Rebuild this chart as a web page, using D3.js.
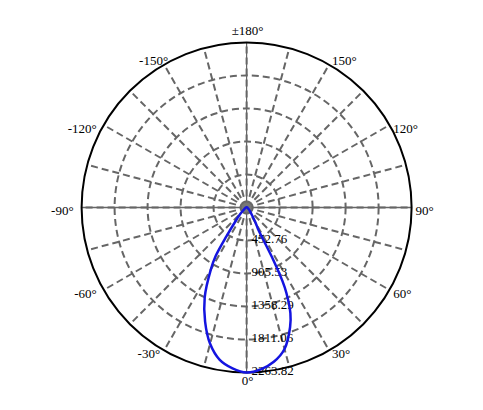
<!DOCTYPE html>
<html>
<head>
<meta charset="utf-8">
<script src="https://cdn.jsdelivr.net/npm/d3@7"></script>
<style>
  body { margin: 0; background: #fff; }
  text { font-family: "Liberation Serif", "Times New Roman", serif; font-size: 13px; }
</style>
</head>
<body>
<div id="chart"></div>
<script>
// Data (angle in degrees, 0 = down, positive to the right; intensity in cd)
var angles = [-180, -135, -90, -60, -50, -45, -40, -35, -32.5, -30, -25, -20, -15, -10, -5,
              0, 5, 10, 15, 20, 22.5, 25, 26, 27, 28, 30, 35, 40, 50, 60, 90, 135];
var intensity = [5, 5, 10, 30, 60, 120, 210, 480, 790, 980, 1360, 1665, 1935, 2122, 2215,
                 2264, 2230, 2150, 2010, 1745, 1570, 1290, 1120, 800, 330, 260, 130, 80, 40, 20, 10, 5];
var ringTicks = [452.76, 905.53, 1358.29, 1811.06, 2263.82];
var angleTicks = [0, 30, 60, 90, 120, 150, 180, -150, -120, -90, -60, -30];
var angleLabels = ["0°", "30°", "60°", "90°", "120°", "150°", "±180°", "-150°", "-120°", "-90°", "-60°", "-30°"];

var svgWidth = 483, svgHeight = 410;
var cx = 246.6, cy = 207.5, R = 165;
var maxVal = 2263.82;

var svg = d3.select("#chart").append("svg")
    .attr("width", svgWidth)
    .attr("height", svgHeight);

var r = d3.scaleLinear().domain([0, maxVal]).range([0, R]);
// screen angle for d3 radial (clockwise from 12 o'clock)
var toRad = function (deg) { return Math.PI - deg * Math.PI / 180; };

var g = svg.append("g").attr("transform", "translate(" + cx + "," + cy + ")");

// spokes every 15 degrees
var spokes = d3.range(0, 360, 15);
g.selectAll("line.spoke")
    .data(spokes)
    .enter().append("line")
    .attr("class", "spoke")
    .attr("x1", 0).attr("y1", 0)
    .attr("x2", function (d) { return R * Math.sin(toRad(d)); })
    .attr("y2", function (d) { return -R * Math.cos(toRad(d)); })
    .attr("stroke", "#666")
    .attr("stroke-width", 2)
    .attr("stroke-dasharray", "7,4");

// main axes, solid
g.append("line").attr("x1", -R).attr("x2", R).attr("y1", 0).attr("y2", 0)
    .attr("stroke", "#666").attr("stroke-width", 1.5);
g.append("line").attr("x1", 0).attr("x2", 0).attr("y1", -R).attr("y2", R)
    .attr("stroke", "#666").attr("stroke-width", 1.2);

// rings
g.selectAll("circle.ring")
    .data(ringTicks.slice(0, -1))
    .enter().append("circle")
    .attr("class", "ring")
    .attr("r", function (d) { return r(d); })
    .attr("fill", "none")
    .attr("stroke", "#666")
    .attr("stroke-width", 2)
    .attr("stroke-dasharray", "7,4");

g.append("circle")
    .attr("r", R)
    .attr("fill", "none")
    .attr("stroke", "black")
    .attr("stroke-width", 2);

// center dot
g.append("circle").attr("r", 5).attr("fill", "#777");

// ring labels
g.selectAll("text.rlab")
    .data(ringTicks)
    .enter().append("text")
    .attr("class", "rlab")
    .attr("x", 5)
    .attr("y", function (d) { return r(d); })
    .attr("dominant-baseline", "middle")
    .attr("fill", "black")
    .text(function (d) { return d.toFixed(2); });

// curve
var pts = angles.map(function (a, i) { return [toRad(a), r(intensity[i])]; });
var line = d3.lineRadial()
    .angle(function (d) { return d[0]; })
    .radius(function (d) { return d[1]; })
    .curve(d3.curveCatmullRomClosed);

g.append("path")
    .attr("d", line(pts))
    .attr("fill", "none")
    .attr("stroke", "#1414e0")
    .attr("stroke-width", 2.5);

// angle labels
g.selectAll("text.alab")
    .data(angleTicks)
    .enter().append("text")
    .attr("class", "alab")
    .attr("x", function (d) {
        var s = Math.sin(d * Math.PI / 180);
        var x = R * s;
        if (d === 0 || d === 180) return x + 1;
        return d > 0 ? x + 2 + 2 * s : x - 8 * Math.abs(s) + (d === -150 ? 8 : 0);
    })
    .attr("y", function (d) {
        var y = R * Math.cos(d * Math.PI / 180);
        if (d === 0) return y + 10;
        if (d === 180) return y - 10;
        if (Math.abs(d) === 150) return y - 2.5;
        return y + 5;
    })
    .attr("text-anchor", function (d) {
        if (d === 0 || d === 180) return "middle";
        return d > 0 ? "start" : "end";
    })
    .attr("dominant-baseline", "middle")
    .attr("fill", "black")
    .text(function (d, i) { return angleLabels[i]; });
</script>
</body>
</html>
